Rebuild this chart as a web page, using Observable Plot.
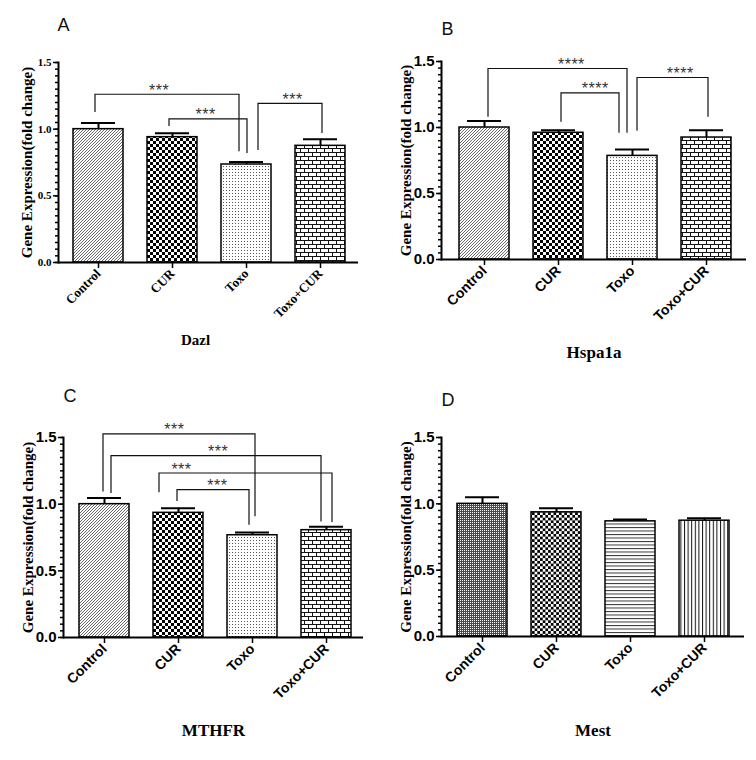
<!DOCTYPE html>
<html><head><meta charset="utf-8">
<script src="https://cdn.jsdelivr.net/npm/d3@7"></script>
<script src="https://cdn.jsdelivr.net/npm/@observablehq/plot@0.6"></script>
<style>
html,body{margin:0;padding:0;background:#fff;}
#root{position:relative;width:756px;height:760px;background:#fff;overflow:hidden;}
.panel{position:absolute;width:378px;height:380px;}
</style></head><body><div id="root"></div>
<script>
// ---------------- data ----------------
const categories = ["Control", "CUR", "Toxo", "Toxo+CUR"];
const yTicks = [0, 0.5, 1.0, 1.5];
const yMinorTicks = [0,0.05,0.1,0.15,0.2,0.25,0.3,0.35,0.4,0.45,0.5,0.55,0.6,0.65,0.7,0.75,0.8,0.85,0.9,0.95,1.0,1.05,1.1,1.15,1.2,1.25,1.3,1.35,1.4,1.45,1.5];
const yTitle = "Gene Expression(fold change)";
const panelLetters = ["A", "B", "C", "D"];
const genes = ["Dazl", "Hspa1a", "MTHFR", "Mest"];

const dazlMean   = [1.00, 0.94, 0.735, 0.875];
const dazlSem    = [0.047, 0.03, 0.018, 0.05];
const hspa1aMean = [1.00, 0.96, 0.785, 0.924];
const hspa1aSem  = [0.05, 0.02, 0.048, 0.055];
const mthfrMean  = [1.00, 0.935, 0.767, 0.805];
const mthfrSem   = [0.047, 0.035, 0.02, 0.025];
const mestMean   = [1.00, 0.936, 0.868, 0.873];
const mestSem    = [0.049, 0.03, 0.013, 0.018];

// brackets: [from, to, bracket height, left leg end, right leg end, label]
const dazlBrackets = [
  ["Control", "Toxo", 1.258, 1.125, 0.83, "***"],
  ["CUR", "Toxo", 1.073, 1.02, 0.817, "***"],
  ["Toxo", "Toxo+CUR", 1.19, 0.84, 0.967, "***"]
];
const hspa1aBrackets = [
  ["Control", "Toxo", 1.443, 1.077, 0.956, "****"],
  ["CUR", "Toxo", 1.258, 1.04, 0.956, "****"],
  ["Toxo", "Toxo+CUR", 1.375, 0.971, 1.077, "****"]
];
const mthfrBrackets = [
  ["Control", "Toxo", 1.523, 1.092, 0.905, "***"],
  ["Control", "Toxo+CUR", 1.36, 1.08, 0.867, "***"],
  ["CUR", "Toxo+CUR", 1.23, 1.085, 0.862, "***"],
  ["CUR", "Toxo", 1.105, 1.02, 0.842, "***"]
];
const mestBrackets = [];

// ---------------- layout / style ----------------
const SERIF = "'Liberation Serif', 'Times New Roman', serif";
const SANS = "'Liberation Sans', Arial, sans-serif";
const layout = [
  {pos:[0,0], m:[62,20,118,58], inset:[13,12], serif:true, pats:["hatch","check","dots","brick"],
   letterD:[-1,-44], yTitleDx:-31, xTitle:[-13,78,15], nudges:[[-3,-7,0.445],[-3,1,0.47],[12,2,0.54]]},
  {pos:[378,0], m:[61,10,121,63], inset:[16,14], serif:false, pats:["hatch","check","dots","brick"],
   letterD:[0,-39], yTitleDx:-35, xTitle:[0,93,17], nudges:[[4,-5,0.60],[3,-13,0.59],[5,2,0.61]]},
  {pos:[0,380], m:[57,15,123,63], inset:[14,11], serif:false, pats:["hatch","check","dots","brick"],
   letterD:[0,-48], yTitleDx:-35, xTitle:[0,93,17], nudges:[[-1,3,0.47],[7,-5,0.51],[-19,6,0.13],[-1,-3,0.56]]},
  {pos:[378,380], m:[57,12,124,63], inset:[14,14], serif:false, pats:["fine","check2","hlines","vlines"],
   letterD:[0,-44], yTitleDx:-35, xTitle:[0,94,17], nudges:[]}
];
const means = [dazlMean, hspa1aMean, mthfrMean, mestMean];
const sems = [dazlSem, hspa1aSem, mthfrSem, mestSem];
const brackets = [dazlBrackets, hspa1aBrackets, mthfrBrackets, mestBrackets];

function patternMark(p) {
  return () => {
    const g = d3.create("svg:g");
    const defs = g.append("defs");
    const mk = (id, w, h, bg = "#fff") => {
      const pat = defs.append("pattern").attr("id", p + id).attr("patternUnits", "userSpaceOnUse")
        .attr("width", w).attr("height", h);
      pat.append("rect").attr("width", w).attr("height", h).attr("fill", bg);
      return pat;
    };
    let q = mk("hatch", 3, 3);
    q.append("path").attr("d", "M-0.5,3.5L3.5,-0.5M-1,1L1,-1M2,4L4,2").attr("stroke", "#444").attr("stroke-width", 0.8);
    q = mk("check", 6, 6);
    q.append("path").attr("d", "M0,0h3v3h-3zM3,3h3v3h-3z").attr("fill", "#000");
    q = mk("check2", 5.4, 5.4);
    q.append("path").attr("d", "M0,0h2.7v2.7h-2.7zM2.7,2.7h2.7v2.7h-2.7z").attr("fill", "#000");
    q = mk("dots", 3, 3);
    q.append("rect").attr("x", 1).attr("y", 1).attr("width", 1).attr("height", 1).attr("fill", "#555");
    q = mk("brick", 8, 8);
    q.append("path").attr("d", "M0,0.5H8M0,4.5H8M0.5,0.5V4.5M4.5,4.5V8").attr("stroke", "#111").attr("stroke-width", 1).attr("fill", "none");
    q = mk("fine", 2, 2, "#4a4a4a");
    q.append("rect").attr("width", 1).attr("height", 1).attr("fill", "#fff");
    q = mk("hlines", 4, 3.5);
    q.append("path").attr("d", "M0,0.5H4").attr("stroke", "#333").attr("stroke-width", 1);
    q = mk("vlines", 3.6, 4);
    q.append("path").attr("d", "M0.5,0V4").attr("stroke", "#111").attr("stroke-width", 1);
    return g.node();
  };
}

function bracketMark(list, nudges) {
  return (index, scales) => {
    const x = scales.x, y = scales.y;
    const c = d => x(d) + x.bandwidth() / 2;
    const g = d3.create("svg:g");
    list.forEach(([from, to, top, endFrom, endTo, label], i) => {
      const [n1, n2, t] = nudges[i];
      const x1 = c(from) + n1, x2 = c(to) + n2;
      g.append("path")
        .attr("d", `M${x1},${y(endFrom)}V${y(top)}H${x2}V${y(endTo)}`)
        .attr("fill", "none").attr("stroke", "#111").attr("stroke-width", 1.2);
      g.append("text")
        .attr("x", x1 + t * (x2 - x1)).attr("y", y(top) + 1.5)
        .attr("text-anchor", "middle")
        .attr("font-family", SANS).attr("font-size", 16).attr("font-weight", "normal")
        .attr("letter-spacing", 0.5).attr("fill", "#333")
        .text(label);
    });
    return g.node();
  };
}

const root = document.getElementById("root");
layout.forEach((L, k) => {
  const p = "p" + k + "-";
  const rows = categories.map((c, i) => ({cat: c, mean: means[k][i], top: means[k][i] + sems[k][i], pat: `url(#${p}${L.pats[i]})`}));
  const tickFont = L.serif ? {fontFamily: SERIF, fontSize: 11, fontWeight: "bold"} : {fontFamily: SANS, fontSize: 15, fontWeight: "bold"};
  const xFont = L.serif ? {fontFamily: SERIF, fontSize: 13, fontWeight: "bold"} : {fontFamily: SANS, fontSize: 14, fontWeight: "bold"};
  const chart = Plot.plot({
    width: 378, height: 380,
    marginTop: L.m[0], marginRight: L.m[1], marginBottom: L.m[2], marginLeft: L.m[3],
    style: {background: "#fff", color: "#000", overflow: "visible"},
    x: {domain: categories, paddingInner: 0.33, paddingOuter: 0, insetLeft: L.inset[0], insetRight: L.inset[1]},
    y: {domain: [0, 1.5]},
    color: {type: "identity"},
    marks: [
      patternMark(p),
      Plot.barY(rows, {x: "cat", y: "mean", fill: "pat", stroke: "#000", strokeWidth: 1.5}),
      Plot.ruleX(rows, {x: "cat", y1: "mean", y2: "top", stroke: "#000", strokeWidth: 2}),
      Plot.tickY(rows, {x: "cat", y: "top", stroke: "#000", strokeWidth: 2, insetLeft: 8, insetRight: 8}),
      bracketMark(brackets[k], L.nudges),
      Plot.axisY(yMinorTicks, {tickSize: 3, tickFormat: () => "", label: null, strokeWidth: 1.5}),
      Plot.axisY(yTicks, {tickSize: 5, tickPadding: 2, tickFormat: d3.format(".1f"), label: null, strokeWidth: 1.5, ...tickFont}),
      Plot.axisX({tickSize: 6, tickPadding: 3, tickRotate: -45, label: null, strokeWidth: 1.5, ...xFont}),
      Plot.ruleY([0], {stroke: "#000", strokeWidth: 2}),
      Plot.frame({anchor: "left", stroke: "#000", strokeWidth: 2}),
      Plot.text([yTitle], {text: d => d, frameAnchor: "left", rotate: -90, dx: L.yTitleDx, textAnchor: "middle", lineAnchor: "middle",
        fontFamily: SERIF, fontSize: 15, fontWeight: "bold", fill: "#000"}),
      Plot.text([genes[k]], {text: d => d, frameAnchor: "bottom", dx: L.xTitle[0], dy: L.xTitle[1], textAnchor: "middle", lineAnchor: "middle",
        fontFamily: SERIF, fontSize: L.xTitle[2], fontWeight: "bold", fill: "#000"}),
      Plot.text([panelLetters[k]], {text: d => d, frameAnchor: "top-left", dx: L.letterD[0], dy: L.letterD[1], textAnchor: "start", lineAnchor: "top",
        fontFamily: SANS, fontSize: 18, fill: "#111"})
    ]
  });
  const div = document.createElement("div");
  div.className = "panel";
  div.style.left = L.pos[0] + "px";
  div.style.top = L.pos[1] + "px";
  div.appendChild(chart);
  root.appendChild(div);
});
</script>
</body></html>
